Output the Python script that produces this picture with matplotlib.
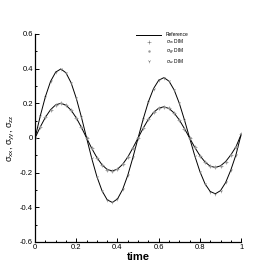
import numpy as np
import matplotlib
matplotlib.use('Agg')
import matplotlib.pyplot as plt
from matplotlib.ticker import MultipleLocator, FuncFormatter

plt.rcParams['font.family'] = ['Liberation Sans', 'DejaVu Sans']
plt.rcParams['mathtext.fontset'] = 'custom'
plt.rcParams['mathtext.rm'] = 'Liberation Sans'
plt.rcParams['mathtext.it'] = 'Liberation Sans'

# values, t = 0 .. 1 step 0.025
time = np.arange(41) * 0.025
sig_big = [0.0, 0.126, 0.238, 0.326, 0.380, 0.398, 0.376, 0.318, 0.229, 0.120,
           0.0, -0.118, -0.223, -0.305, -0.357, -0.372, -0.352, -0.297, -0.215, -0.112,
           0.0, 0.110, 0.209, 0.285, 0.333, 0.348, 0.328, 0.277, 0.200, 0.104,
           0.0, -0.103, -0.194, -0.265, -0.309, -0.322, -0.304, -0.257, -0.185, -0.097,
           0.02]
sig_small = [0.0, 0.063, 0.119, 0.163, 0.191, 0.200, 0.189, 0.160, 0.116, 0.061,
             0.0, -0.060, -0.113, -0.155, -0.182, -0.190, -0.180, -0.152, -0.110, -0.057,
             0.0, 0.057, 0.108, 0.147, 0.172, 0.180, 0.170, 0.144, 0.104, 0.054,
             0.0, -0.054, -0.102, -0.139, -0.163, -0.170, -0.161, -0.136, -0.098, -0.051,
             0.02]


def fmt(v, pos):
    s = '%.1f' % v
    if s in ('0.0', '-0.0'):
        return '0'
    if s.endswith('.0'):
        return s[:-2]
    return s


fig = plt.figure(figsize=(2.74, 2.74), dpi=100)
ax = fig.add_axes([0.128, 0.117, 0.752, 0.759])

ax.plot(time, sig_small, color='black', lw=0.7, label='Reference')
ax.plot(time, sig_big, color='black', lw=0.7)
ax.plot(time, sig_small, ls='none', marker='+', ms=2.5, mew=0.4, color='#777777',
        label=r'$\sigma_{xx}$ DIM')
ax.plot(time, sig_small, ls='none', marker='.', ms=1.5, color='#999999',
        label=r'$\sigma_{yy}$ DIM')
ax.plot(time, sig_big, ls='none', marker='1', ms=2.5, mew=0.4, color='#777777',
        label=r'$\sigma_{zz}$ DIM')

ax.set_xlim(0, 1)
ax.set_ylim(-0.6, 0.6)
ax.xaxis.set_major_locator(MultipleLocator(0.2))
ax.xaxis.set_minor_locator(MultipleLocator(0.05))
ax.yaxis.set_major_locator(MultipleLocator(0.2))
ax.yaxis.set_minor_locator(MultipleLocator(0.1))
ax.xaxis.set_major_formatter(FuncFormatter(fmt))
ax.yaxis.set_major_formatter(FuncFormatter(fmt))
ax.tick_params(which='both', direction='in', labelsize=5.5, width=0.7, pad=1.5)
ax.tick_params(which='major', length=3)
ax.tick_params(which='minor', length=1.5)
ax.spines['top'].set_visible(False)
ax.spines['right'].set_visible(False)
for s in ('left', 'bottom'):
    ax.spines[s].set_linewidth(0.9)

ax.set_xlabel('time', fontsize=8, fontweight='bold', labelpad=1)
ax.set_ylabel(r'$\sigma_{xx}$, $\sigma_{yy}$, $\sigma_{zz}$', fontsize=6.5, labelpad=2)

ax.legend(loc='upper left', bbox_to_anchor=(0.48, 1.02), fontsize=3.5, frameon=False,
          handlelength=5.0, handletextpad=1.0, labelspacing=0.05, borderpad=0)

fig.savefig('out.png', dpi=100)
